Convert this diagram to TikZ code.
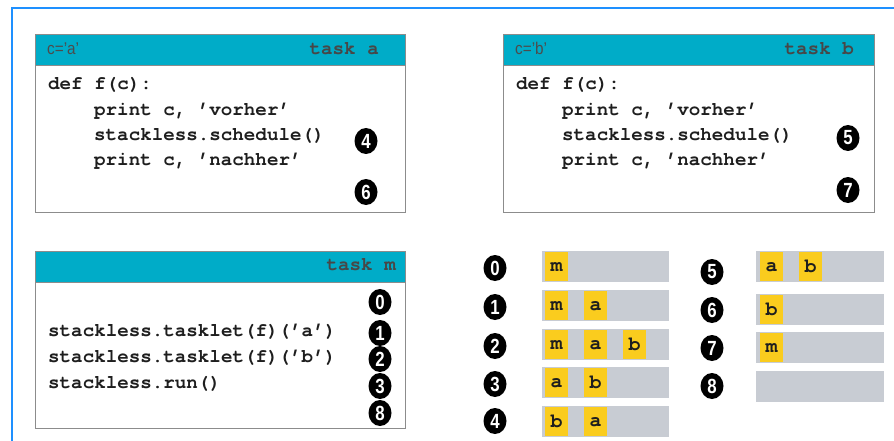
\documentclass[tikz,border=0pt]{standalone}
\usepackage{fontspec}
\usetikzlibrary{shapes.geometric}
\newfontfamily\cour{texgyrecursor}[Extension=.otf, UprightFont=*-regular, BoldFont=*-bold]
\newfontfamily\lsans{Liberation Sans}
\definecolor{frameblue}{RGB}{30,144,255}
\definecolor{hdrteal}{RGB}{0,172,200}
\definecolor{boxgray}{RGB}{140,140,140}
\definecolor{bargray}{RGB}{200,204,211}
\definecolor{cellyel}{RGB}{250,204,30}
\definecolor{codeblk}{RGB}{30,30,30}
\begin{document}
\begin{tikzpicture}[x=1pt,y=-1pt,
  taskbox/.style={draw=boxgray, line width=1pt, fill=white, anchor=north west, minimum width=370pt, minimum height=178pt, inner sep=0pt},
  hdrbox/.style={draw=boxgray, line width=1pt, fill=hdrteal, anchor=north west, minimum width=370pt, minimum height=31pt, inner sep=0pt},
  code/.style={anchor=mid west, inner sep=0pt, text=codeblk, font=\cour\bfseries\fontsize{19.2}{22}\selectfont},
  hdrtext/.style={anchor=mid east, inner sep=0pt, text=black!72, font=\cour\bfseries\fontsize{19.2}{22}\selectfont},
  varlbl/.style={anchor=mid west, inner sep=0pt, text=black!70, font=\lsans\fontsize{17}{18}\selectfont},
  numc/.style={ellipse, fill=black, text=white, inner sep=0pt, minimum width=23pt, minimum height=26pt, font=\lsans\bfseries\fontsize{20.5}{21}\selectfont},
  qbar/.style={fill=bargray, anchor=north west, minimum height=31pt, inner sep=0pt},
  qcell/.style={fill=cellyel, anchor=north west, minimum width=23pt, minimum height=29pt, inner sep=0pt, text=codeblk, font=\cour\bfseries\fontsize{20}{20}\selectfont}
]
\useasboundingbox (0,0) rectangle (894,441);
% outer blue frame
\coordinate (fbl) at (12,445);
\coordinate (ftl) at (12,8);
\coordinate (ftr) at (898,8);
\draw[frameblue, line width=2.5pt] (fbl) -- (ftl) -- (ftr);

% ---------- task a ----------
\node[taskbox] (ta) at (35,34) {};
\node[hdrbox] (tah) at (35,34) {};
\node[varlbl] (tav) at (47,52) {\scalebox{0.9}[1]{c=\textquoteright a\textquoteright}};
\node[hdrtext] (tat) at (379,52) {task a};
\node[code] (ta1) at (48,87) {def f(c):};
\node[code] (ta2) at (94,113) {print c, \textquoteright vorher\textquoteright};
\node[code] (ta3) at (94,138) {stackless.schedule()};
\node[code] (ta4) at (94,163) {print c, \textquoteright nachher\textquoteright};
\node[numc] (n4) at (366,141) {\scalebox{0.82}[1]{4}};
\node[numc] (n6) at (366,192) {\scalebox{0.82}[1]{6}};

% ---------- task b ----------
\node[taskbox, minimum width=371pt] (tb) at (503,34) {};
\node[hdrbox, minimum width=371pt] (tbh) at (503,34) {};
\node[varlbl] (tbv) at (515,52) {\scalebox{0.9}[1]{c=\textquoteright b\textquoteright}};
\node[hdrtext] (tbt) at (854,52) {task b};
\node[code] (tb1) at (516,87) {def f(c):};
\node[code] (tb2) at (562,113) {print c, \textquoteright vorher\textquoteright};
\node[code] (tb3) at (562,138) {stackless.schedule()};
\node[code] (tb4) at (562,163) {print c, \textquoteright nachher\textquoteright};
\node[numc] (n5) at (848,138) {\scalebox{0.82}[1]{5}};
\node[numc] (n7) at (848,190) {\scalebox{0.82}[1]{7}};

% ---------- task m ----------
\node[taskbox, minimum height=177pt] (tm) at (35,251) {};
\node[hdrbox] (tmh) at (35,251) {};
\node[hdrtext] (tmt) at (396,268) {task m};
\node[code] (tm1) at (48,334) {stackless.tasklet(f)(\textquoteright a\textquoteright)};
\node[code] (tm2) at (48,360) {stackless.tasklet(f)(\textquoteright b\textquoteright)};
\node[code] (tm3) at (48,386) {stackless.run()};
\node[numc] (m0) at (380,302) {\scalebox{0.82}[1]{0}};
\node[numc] (m1) at (380,333) {\scalebox{0.82}[1]{1}};
\node[numc] (m2) at (380,359) {\scalebox{0.82}[1]{2}};
\node[numc] (m3) at (380,386) {\scalebox{0.82}[1]{3}};
\node[numc] (m8) at (380,413) {\scalebox{0.82}[1]{8}};

% ---------- queue states, left column ----------
\node[numc] (q0) at (495,268) {\scalebox{0.82}[1]{0}};
\node[numc] (q1) at (495,307) {\scalebox{0.82}[1]{1}};
\node[numc] (q2) at (495,346) {\scalebox{0.82}[1]{2}};
\node[numc] (q3) at (495,384) {\scalebox{0.82}[1]{3}};
\node[numc] (q4) at (495,421) {\scalebox{0.82}[1]{4}};
\node[qbar, minimum width=127pt] (b0) at (542,251) {};
\node[qbar, minimum width=127pt] (b1) at (542,290) {};
\node[qbar, minimum width=127pt] (b2) at (542,329) {};
\node[qbar, minimum width=127pt] (b3) at (542,367) {};
\node[qbar, minimum width=127pt] (b4) at (542,406) {};
\node[qcell] (c00) at (545,252) {m};
\node[qcell] (c10) at (545,291) {m};
\node[qcell] (c11) at (584,291) {a};
\node[qcell] (c20) at (545,330) {m};
\node[qcell] (c21) at (584,330) {a};
\node[qcell] (c22) at (623,330) {b};
\node[qcell] (c30) at (545,368) {a};
\node[qcell] (c31) at (584,368) {b};
\node[qcell] (c40) at (545,407) {b};
\node[qcell] (c41) at (584,407) {a};

% ---------- queue states, right column ----------
\node[numc] (q5) at (712,272) {\scalebox{0.82}[1]{5}};
\node[numc] (q6) at (712,310) {\scalebox{0.82}[1]{6}};
\node[numc] (q7) at (712,348) {\scalebox{0.82}[1]{7}};
\node[numc] (q8) at (712,386) {\scalebox{0.82}[1]{8}};
\node[qbar, minimum width=128pt] (b5) at (756,251) {};
\node[qbar, minimum width=128pt] (b6) at (756,294) {};
\node[qbar, minimum width=128pt] (b7) at (756,332) {};
\node[qbar, minimum width=128pt] (b8) at (756,371) {};
\node[qcell] (c50) at (760,252) {a};
\node[qcell] (c51) at (799,252) {b};
\node[qcell] (c60) at (760,295) {b};
\node[qcell] (c70) at (760,333) {m};
\end{tikzpicture}
\end{document}
